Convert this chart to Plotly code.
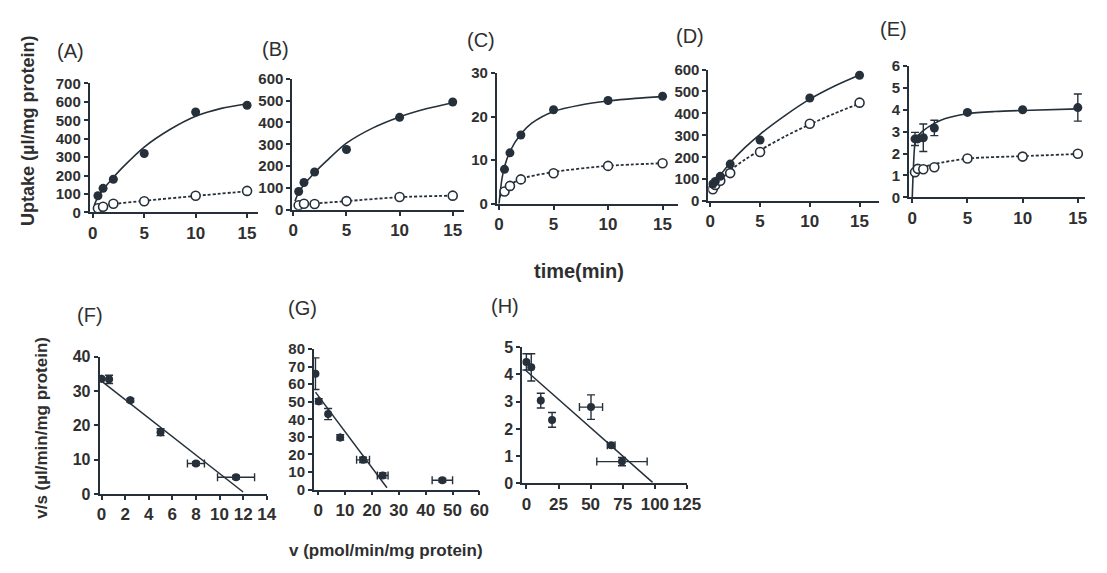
import plotly.graph_objects as go

# The page keeps the browser's 8px body margin, so the figure is drawn 16px
# smaller than the window and all reference pixel positions are shifted by 8px.
PAGE_W, PAGE_H = 1107, 573
OFF = 8
W, H = PAGE_W - 2 * OFF, PAGE_H - 2 * OFF


def fx(px):
    return min(max((px - OFF) / W, 0.0), 1.0)


def fy(py):
    return min(max(1 - (py - OFF) / H, 0.0), 1.0)


# ---------------- data ----------------
# (A)
A_t = [0.5, 1, 2, 5, 10, 15]
A_filled = [91, 131, 180, 320, 545, 582]
A_open = [23, 31, 47, 61, 91, 117]
A_fit_t = [0.15, 0.5, 1, 2, 3, 5, 7.5, 10, 12.5, 15]
A_fit_filled = [40, 85, 125, 190, 250, 355, 450, 522, 565, 590]
A_fit_open_t = [0.15, 0.5, 1, 2, 5, 10, 15]
A_fit_open = [15, 25, 33, 45, 63, 90, 115]

# (B)
B_t = [0.5, 1, 2, 5, 10, 15]
B_filled = [84, 125, 173, 276, 423, 493]
B_open = [21, 28, 27, 40, 59, 65]
B_fit_t = [0.15, 0.5, 1, 2, 3, 5, 7.5, 10, 12.5, 15]
B_fit_filled = [40, 80, 115, 170, 218, 305, 375, 425, 462, 490]
B_fit_open_t = [0.15, 0.5, 1, 2, 5, 10, 15]
B_fit_open = [15, 20, 25, 29, 40, 58, 65]

# (C)
C_t = [0.5, 1, 2, 5, 10, 15]
C_filled = [7.9, 11.7, 15.8, 21.6, 23.7, 24.7]
C_open = [2.8, 4.1, 5.6, 7.0, 8.7, 9.3]
C_fit_t = [0, 0.25, 0.5, 1, 2, 3, 5, 7.5, 10, 12.5, 15]
C_fit_filled = [0, 5.5, 8.5, 12, 16, 18.5, 21.2, 22.7, 23.6, 24.2, 24.6]
C_fit_open_t = [0.05, 0.5, 1, 2, 5, 10, 15]
C_fit_open = [1.5, 3.2, 4.3, 5.7, 7.3, 8.7, 9.3]

# (D)
D_t = [0.25, 0.5, 1, 2, 5, 10, 15]
D_filled = [78, 90, 113, 169, 279, 470, 574]
D_open = [54, 74, 93, 128, 224, 353, 449]
D_fit_t = [0.1, 0.5, 1, 2, 3.5, 5, 7.5, 10, 12.5, 15]
D_fit_filled = [60, 88, 118, 175, 245, 305, 390, 465, 525, 575]
D_fit_open = [38, 70, 95, 140, 190, 232, 295, 350, 400, 445]

# (E)
E_t = [0.25, 0.5, 1, 2, 5, 10, 15]
E_filled = [2.67, 2.67, 2.72, 3.17, 3.88, 4.0, 4.1]
E_filled_err = [0.3, 0.0, 0.63, 0.35, 0.05, 0.05, 0.62]
E_open = [1.15, 1.3, 1.28, 1.37, 1.77, 1.86, 1.99]
E_open_err = [0.0, 0.0, 0.05, 0.0, 0.05, 0.1, 0.0]
E_fit_t = [0, 0.1, 0.25, 0.5, 1, 2, 3, 5, 7.5, 10, 15]
E_fit_filled = [0, 1.3, 2.45, 2.8, 3.05, 3.38, 3.6, 3.82, 3.92, 3.97, 4.04]
E_fit_open_t = [0.05, 0.25, 0.5, 1, 2, 5, 10, 15]
E_fit_open = [0.9, 1.2, 1.3, 1.38, 1.52, 1.77, 1.88, 1.98]

# (F)
F_v = [0.0, 0.64, 2.44, 5.0, 8.0, 11.4]
F_vs = [33.6, 33.4, 27.3, 18.0, 8.9, 4.9]
F_vs_err = [0.0, 1.2, 0.5, 1.0, 0.5, 0.5]
F_v_err = [0.0, 0.0, 0.0, 0.0, 0.72, 1.57]
F_line_v = [0.0, 12.0]
F_line_vs = [32.9, 0.6]

# (G)
G_v = [-1.0, 0.2, 3.7, 8.2, 16.7, 24.0, 46.2]
G_vs = [66.0, 50.3, 43.0, 29.7, 16.9, 8.0, 5.3]
G_vs_err = [9.0, 1.5, 3.2, 1.5, 1.5, 1.5, 1.0]
G_v_err = [0.0, 0.0, 0.0, 0.0, 2.4, 2.0, 3.8]
G_line_v = [-1.0, 25.6]
G_line_vs = [55.5, 1.0]

# (H)
H_v = [0.0, 3.8, 11.2, 20.0, 50.3, 66.0, 74.4]
H_vs = [4.46, 4.26, 3.04, 2.33, 2.8, 1.4, 0.8]
H_vs_err = [0.3, 0.5, 0.27, 0.27, 0.45, 0.05, 0.15]
H_v_err = [0.0, 0.0, 0.0, 0.0, 9.0, 3.0, 19.6]
H_line_v = [-1.3, 98.2]
H_line_vs = [4.18, 0.04]

top_x_ticks = [0, 5, 10, 15]
A_y_ticks = [0, 100, 200, 300, 400, 500, 600, 700]
B_y_ticks = [0, 100, 200, 300, 400, 500, 600]
C_y_ticks = [0, 10, 20, 30]
D_y_ticks = [0, 100, 200, 300, 400, 500, 600]
E_y_ticks = [0, 1, 2, 3, 4, 5, 6]
F_x_ticks = [0, 2, 4, 6, 8, 10, 12, 14]
F_y_ticks = [0, 10, 20, 30, 40]
G_x_ticks = [0, 10, 20, 30, 40, 50, 60]
G_y_ticks = [0, 10, 20, 30, 40, 50, 60, 70, 80]
H_x_ticks = [0, 25, 50, 75, 100, 125]
H_y_ticks = [0, 1, 2, 3, 4, 5]

# ---------------- styling / layout ----------------
INK = "#26303a"
TXT = "#2f2f2f"
FONT = "Arial, Liberation Sans, sans-serif"

# page-pixel boxes: (left, right, x range, bottom, top, y range, xticks, yticks, xfont, yfont)
panels = [
    (87, 258, [-0.3, 16.05], 210, 76.7, [0, 700], top_x_ticks, A_y_ticks, 17, 15),
    (293, 468, [-0.1, 16.1], 207.3, 71.7, [0, 600], top_x_ticks, B_y_ticks, 17, 15),
    (501, 685, [-0.2, 16.4], 201, 66, [0, 30], top_x_ticks, C_y_ticks, 17, 15),
    (716, 890, [-0.2, 17.0], 198.3, 62.3, [0, 600], top_x_ticks, D_y_ticks, 17, 15),
    (920, 1099, [-0.3, 15.65], 194.3, 58.7, [0, 6], top_x_ticks, E_y_ticks, 17, 15),
    (97, 267, [-0.17, 14], 501, 359, [0, 40], F_x_ticks, F_y_ticks, 17, 16),
    (315, 483.3, [-1.57, 60], 496.3, 351.2, [0, 80], G_x_ticks, G_y_ticks, 17, 15),
    (526.7, 694.3, [-3.3, 125], 490, 349.2, [0, 5], H_x_ticks, H_y_ticks, 17, 16),
]

fig = go.Figure()
layout = dict(
    width=W, height=H, margin=dict(l=0, r=0, t=0, b=0),
    paper_bgcolor="white", plot_bgcolor="white", showlegend=False,
    font=dict(family=FONT, color=TXT),
)

for i, (x0, x1, xr, yb, yt, yr, xt, yt_ticks, xfs, yfs) in enumerate(panels):
    n = "" if i == 0 else str(i + 1)
    layout["xaxis" + n] = dict(
        domain=[fx(x0), fx(x1)], range=xr, anchor="y" + n,
        showline=True, linecolor=INK, linewidth=1.8, ticks="outside", ticklen=4,
        tickwidth=1.5, tickcolor=INK, tickvals=xt, showgrid=False, zeroline=False,
        tickfont=dict(size=xfs, family=FONT, color=TXT, weight="bold"), fixedrange=True,
    )
    layout["yaxis" + n] = dict(
        domain=[fy(yb), fy(yt)], range=yr, anchor="x" + n,
        showline=True, linecolor=INK, linewidth=1.8, ticks="outside", ticklen=4,
        tickwidth=1.5, tickcolor=INK, tickvals=yt_ticks, showgrid=False, zeroline=False,
        tickfont=dict(size=yfs, family=FONT, color=TXT, weight="bold"), fixedrange=True,
    )


def ax(i):
    n = "" if i == 0 else str(i + 1)
    return "x" + n, "y" + n


def solid(i, x, y):
    xa, ya = ax(i)
    fig.add_trace(go.Scatter(x=x, y=y, mode="lines", xaxis=xa, yaxis=ya,
                             line=dict(color=INK, width=1.6, shape="spline", smoothing=0.8),
                             hoverinfo="skip"))


def dotted(i, x, y):
    xa, ya = ax(i)
    fig.add_trace(go.Scatter(x=x, y=y, mode="lines", xaxis=xa, yaxis=ya,
                             line=dict(color=INK, width=1.8, dash="3px,2px", shape="spline", smoothing=0.8),
                             hoverinfo="skip"))


def filled(i, x, y, ey=None, ex=None, size=9):
    xa, ya = ax(i)
    kw = {}
    if ey is not None:
        kw["error_y"] = dict(type="data", array=ey, color=INK, thickness=1.4, width=4)
    if ex is not None:
        kw["error_x"] = dict(type="data", array=ex, color=INK, thickness=1.4, width=4)
    fig.add_trace(go.Scatter(x=x, y=y, mode="markers", xaxis=xa, yaxis=ya,
                             marker=dict(color=INK, size=size, line=dict(width=0)), **kw))


def hollow(i, x, y, ey=None):
    xa, ya = ax(i)
    kw = {}
    if ey is not None:
        kw["error_y"] = dict(type="data", array=ey, color=INK, thickness=1.4, width=4)
    fig.add_trace(go.Scatter(x=x, y=y, mode="markers", xaxis=xa, yaxis=ya,
                             marker=dict(color="white", size=9, line=dict(color=INK, width=1.6)), **kw))


# top row
solid(0, A_fit_t, A_fit_filled); dotted(0, A_fit_open_t, A_fit_open)
hollow(0, A_t, A_open); filled(0, A_t, A_filled)

solid(1, B_fit_t, B_fit_filled); dotted(1, B_fit_open_t, B_fit_open)
hollow(1, B_t, B_open); filled(1, B_t, B_filled)

solid(2, C_fit_t, C_fit_filled); dotted(2, C_fit_open_t, C_fit_open)
hollow(2, C_t, C_open); filled(2, C_t, C_filled)

solid(3, D_fit_t, D_fit_filled); dotted(3, D_fit_t, D_fit_open)
hollow(3, D_t, D_open); filled(3, D_t, D_filled)

solid(4, E_fit_t, E_fit_filled); dotted(4, E_fit_open_t, E_fit_open)
hollow(4, E_t, E_open, E_open_err); filled(4, E_t, E_filled, E_filled_err)

# bottom row (Scatchard-type plots)
for i, (lx, ly, vx, vy, ey, ex) in enumerate([
    (F_line_v, F_line_vs, F_v, F_vs, F_vs_err, F_v_err),
    (G_line_v, G_line_vs, G_v, G_vs, G_vs_err, G_v_err),
    (H_line_v, H_line_vs, H_v, H_vs, H_vs_err, H_v_err),
]):
    xa, ya = ax(5 + i)
    fig.add_trace(go.Scatter(x=lx, y=ly, mode="lines", xaxis=xa, yaxis=ya,
                             line=dict(color=INK, width=1.5), hoverinfo="skip"))
    filled(5 + i, vx, vy, ey, ex, size=8)

# ---------------- text ----------------
ann = []
for label, px, py in [("(A)", 67, 43), ("(B)", 276, 41), ("(C)", 485, 32), ("(D)", 697, 28),
                      ("(E)", 904, 20), ("(F)", 87, 316), ("(G)", 303, 309), ("(H)", 509, 307)]:
    ann.append(dict(text=label, x=fx(px), y=fy(py), xref="paper", yref="paper",
                    showarrow=False, xanchor="center", yanchor="middle",
                    font=dict(size=20, family=FONT, color=TXT)))

ann.append(dict(text="Uptake (µl/mg protein)", x=fx(24), y=fy(126), xref="paper", yref="paper",
                showarrow=False, textangle=-90, xanchor="center", yanchor="middle",
                font=dict(size=18, family=FONT, color=TXT, weight="bold")))
ann.append(dict(text="time(min)", x=fx(585), y=fy(270), xref="paper", yref="paper",
                showarrow=False, xanchor="center", yanchor="middle",
                font=dict(size=20, family=FONT, color=TXT, weight="bold")))
ann.append(dict(text="v/s (µl/min/mg protein)", x=fx(38), y=fy(433), xref="paper", yref="paper",
                showarrow=False, textangle=-90, xanchor="center", yanchor="middle",
                font=dict(size=17, family=FONT, color=TXT, weight="bold")))
ann.append(dict(text="v (pmol/min/mg protein)", x=fx(388), y=fy(559), xref="paper", yref="paper",
                showarrow=False, xanchor="center", yanchor="middle",
                font=dict(size=17, family=FONT, color=TXT, weight="bold")))

layout["annotations"] = ann
fig.update_layout(**layout)
fig.write_html("out.html", config={"displayModeBar": False})
